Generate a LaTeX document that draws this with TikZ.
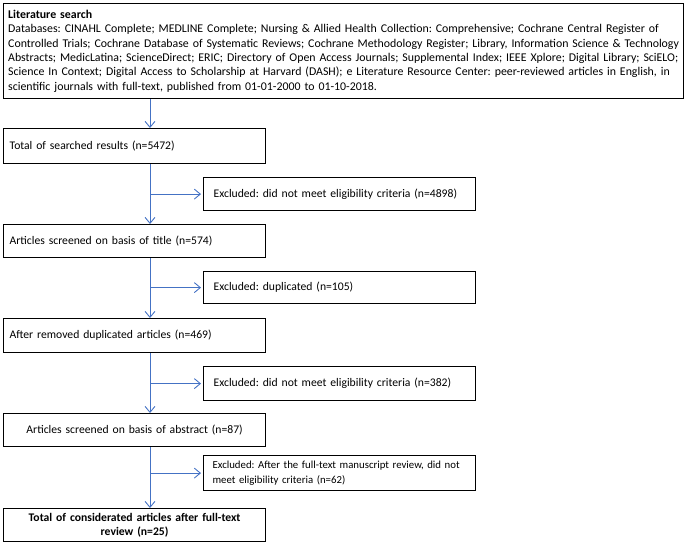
\documentclass[tikz,border=0pt]{standalone}
\usepackage{fontspec}
\usepackage{graphicx}
\setmainfont{Carlito}
\usetikzlibrary{arrows.meta}
\definecolor{arrowblue}{RGB}{68,114,196}
\newsavebox\measbox
\newdimen\measdim
% #1 = macro to define, #2 = target width (px), #3 = sample text
\newcommand\fitfontsize[3]{%
  \sbox\measbox{\fontsize{10}{12}\selectfont #3}%
  \measdim=\wd\measbox
  \pgfmathsetmacro#1{10*#2/\the\measdim}}
\tikzset{
  box/.style={draw=black, line width=1.2pt, anchor=north west, inner ysep=0pt,
    font=\fontsize{\boxfs}{14.3}\selectfont},
  mainbox/.style={box, inner xsep=6pt, minimum width=262pt, text width=250pt, align=left},
  exbox/.style={box, inner xsep=10pt, minimum width=272pt, text width=252pt, align=left},
  arr/.style={draw=arrowblue, line width=0.9pt, -{Straight Barb[length=6pt,width=10pt,line width=0.9pt]}}
}
\begin{document}
\frenchspacing
\fitfontsize{\topfs}{653}{Controlled Trials; Cochrane Database of Systematic Reviews; Cochrane Methodology Register; Library, Information Science \& Technology}%
\fitfontsize{\boxfs}{236}{Excluded: did not meet eligibility criteria (n=4898)}%
\fitfontsize{\smallfs}{239}{Excluded: After the full-text manuscript review, did not}%
\begin{tikzpicture}[x=1pt,y=-1pt]
\useasboundingbox (0,0) rectangle (685,542);
\coordinate (spine) at (150,0);
% top box
\node[draw=black, line width=1.2pt, anchor=north west, inner sep=0pt, minimum width=680pt, minimum height=95pt] (topbox) at (3,3) {};
\node[anchor=north west, inner sep=0pt, text width=676pt, align=left,
      font=\fontsize{\topfs}{14.3}\selectfont] (toptext) at (8,10)
 {\textbf{Literature search}\\
 Databases: CINAHL Complete; MEDLINE Complete; Nursing \& Allied Health Collection: Comprehensive; Cochrane Central Register of\\
 Controlled Trials; Cochrane Database of Systematic Reviews; Cochrane Methodology Register; Library, Information Science \& Technology\\
 Abstracts; MedicLatina; ScienceDirect; ERIC; Directory of Open Access Journals; Supplemental Index; IEEE Xplore; Digital Library; SciELO;\\
 Science In Context; Digital Access to Scholarship at Harvard (DASH); e Literature Resource Center: peer-reviewed articles in English, in\\
 scientific journals with full-text, published from 01-01-2000 to 01-10-2018.};
% main boxes
\node[mainbox, minimum height=35pt] (b2) at (3,128) {Total of searched results (n=5472)};
\node[mainbox, minimum height=33pt] (b3) at (3,224) {Articles screened on basis of title (n=574)};
\node[mainbox, minimum height=34pt] (b4) at (3,318) {After removed duplicated articles (n=469)};
\node[mainbox, minimum height=33pt, align=center] (b5) at (3,413) {Articles screened on basis of abstract (n=87)};
\node[mainbox, minimum height=33pt, align=center, font=\fontsize{\boxfs}{14}\selectfont\bfseries] (b6) at (3,508) {Total of considerated articles after full-text\\review (n=25)};
% excluded boxes
\node[exbox, minimum height=33pt] (e1) at (203,177) {Excluded: did not meet eligibility criteria (n=4898)};
\node[exbox, minimum height=32pt] (e2) at (203,271) {Excluded: duplicated (n=105)};
\node[exbox, minimum height=34pt] (e3) at (203,366) {Excluded: did not meet eligibility criteria (n=382)};
\node[exbox, inner xsep=9pt, text width=254pt, minimum height=35pt, font=\fontsize{\smallfs}{14.5}\selectfont] (e4) at (203,455) {Excluded: After the full-text manuscript review, did not\\meet eligibility criteria (n=62)};
% connectors
\draw[arr] (topbox.south -| spine) -- (b2.north -| spine);
\draw[arr] (b2.south -| spine) -- (b3.north -| spine);
\draw[arr] (b3.south -| spine) -- (b4.north -| spine);
\draw[arr] (b4.south -| spine) -- (b5.north -| spine);
\draw[arr] (b5.south -| spine) -- (b6.north -| spine);
\draw[arr] (spine |- e1.west) -- ([xshift=-2pt]e1.west);
\draw[arr] (spine |- e2.west) -- ([xshift=-2pt]e2.west);
\draw[arr] (spine |- e3.west) -- ([xshift=-2pt]e3.west);
\draw[arr] (spine |- e4.west) -- ([xshift=-2pt]e4.west);
\end{tikzpicture}
\end{document}
